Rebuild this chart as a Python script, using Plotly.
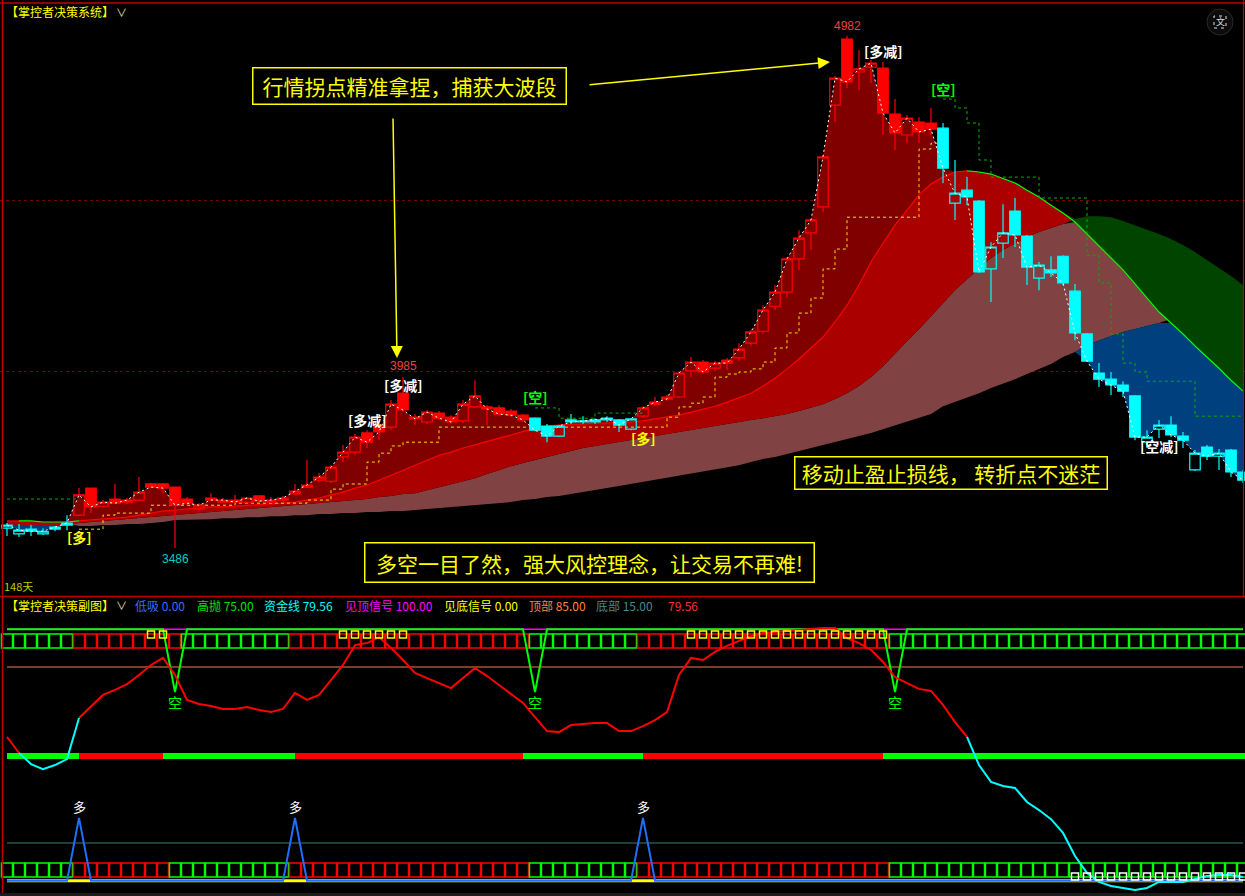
import numpy as np
import plotly.graph_objects as go

W, H = 1245, 896

# ---------------- main chart data (price) ----------------
OPEN = [3544, 3527, 3541, 3527, 3541, 3553, 3582, 3661, 3608, 3629,
        3620, 3626, 3673, 3673, 3664, 3629, 3600, 3632, 3620, 3626,
        3620, 3638, 3620, 3626, 3644, 3664, 3684, 3681, 3752, 3766,
        3822, 3845, 3839, 3938, 3868, 3854, 3880, 3868, 3857, 3898,
        3898, 3895, 3886, 3874, 3865, 3842, 3813, 3860, 3854, 3854,
        3860, 3860, 3833, 3871, 3906, 3927, 3927, 4003, 4029, 4011,
        4035, 4041, 4084, 4119, 4192, 4233, 4330, 4406, 4482, 4779,
        4972, 4876, 4890, 4887, 4753, 4692, 4730, 4727, 4712, 4493,
        4531, 4499, 4301, 4376, 4470, 4397, 4274, 4298, 4338, 4236,
        4111, 3997, 3979, 3962, 3930, 3795, 3833, 3845, 3813, 3714,
        3781, 3754, 3772, 3708]
HIGH = [3559, 3556, 3553, 3544, 3550, 3582, 3661, 3661, 3626, 3673,
        3632, 3693, 3676, 3676, 3664, 3635, 3617, 3646, 3632, 3641,
        3635, 3641, 3635, 3638, 3673, 3743, 3705, 3728, 3787, 3819,
        3830, 3854, 3918, 3985, 3877, 3889, 3886, 3874, 3918, 3976,
        3903, 3903, 3892, 3877, 3868, 3848, 3845, 3877, 3871, 3865,
        3871, 3863, 3865, 3900, 3927, 3933, 4000, 4044, 4035, 4032,
        4041, 4084, 4122, 4195, 4254, 4336, 4414, 4449, 4633, 4864,
        4982, 4940, 4911, 4905, 4797, 4750, 4744, 4771, 4727, 4619,
        4569, 4502, 4379, 4490, 4508, 4400, 4321, 4338, 4341, 4257,
        4114, 4026, 4000, 3973, 3933, 3830, 3860, 3871, 3825, 3772,
        3787, 3775, 3775, 3714]
LOW = [3521, 3518, 3521, 3524, 3535, 3538, 3579, 3588, 3606, 3614,
       3614, 3623, 3661, 3646, 3486, 3611, 3597, 3623, 3617, 3617,
       3617, 3620, 3617, 3620, 3641, 3661, 3679, 3676, 3737, 3757,
       3778, 3801, 3830, 3883, 3845, 3848, 3860, 3848, 3851, 3895,
       3845, 3871, 3868, 3854, 3827, 3795, 3810, 3848, 3848, 3848,
       3854, 3825, 3830, 3865, 3900, 3915, 3924, 3985, 3994, 4003,
       4006, 4032, 4076, 4111, 4181, 4219, 4298, 4356, 4467, 4730,
       4829, 4823, 4844, 4692, 4648, 4668, 4668, 4692, 4552, 4444,
       4487, 4289, 4204, 4333, 4365, 4254, 4239, 4277, 4254, 4093,
       4029, 3956, 3933, 3927, 3801, 3778, 3807, 3810, 3778, 3711,
       3743, 3714, 3693, 3676]
CLOSE = [3553, 3538, 3535, 3535, 3547, 3559, 3641, 3606, 3620, 3617,
         3626, 3649, 3664, 3661, 3611, 3617, 3611, 3626, 3626, 3620,
         3632, 3623, 3626, 3632, 3652, 3670, 3693, 3722, 3766, 3810,
         3795, 3825, 3906, 3889, 3863, 3883, 3865, 3854, 3906, 3930,
         3892, 3877, 3874, 3860, 3830, 3813, 3842, 3854, 3857, 3860,
         3865, 3845, 3863, 3895, 3912, 3921, 3997, 4029, 4000, 4026,
         4026, 4067, 4117, 4181, 4233, 4330, 4391, 4444, 4628, 4858,
         4847, 4885, 4902, 4756, 4698, 4741, 4701, 4709, 4595, 4522,
         4511, 4292, 4365, 4406, 4400, 4306, 4312, 4289, 4260, 4114,
         4032, 3979, 3962, 3944, 3810, 3810, 3845, 3816, 3801, 3763,
         3754, 3763, 3708, 3684]
# r = bull-trend candle (red), c = bear-trend candle (cyan)
CANDLE_TREND = "c" * 6 + "r" * 38 + "c" * 9 + "r" * 25 + "c" * 26

MA_FAST = [3565, 3565, 3565, 3562, 3562, 3562, 3565, 3568, 3570, 3573,
           3576, 3582, 3588, 3594, 3597, 3600, 3603, 3606, 3606, 3608,
           3611, 3611, 3614, 3617, 3620, 3626, 3632, 3641, 3649, 3661,
           3670, 3684, 3699, 3714, 3728, 3743, 3757, 3766, 3778, 3787,
           3798, 3807, 3816, 3825, 3836, 3842, 3845, 3848, 3848, 3851,
           3851, 3854, 3854, 3857, 3863, 3868, 3874, 3883, 3892, 3900,
           3912, 3924, 3938, 3959, 3982, 4009, 4038, 4070, 4102, 4146,
           4195, 4254, 4321, 4376, 4429, 4473, 4517, 4549, 4569, 4584,
           4587, 4584, 4578, 4566, 4552, 4531, 4511, 4487, 4464, 4438,
           4403, 4368, 4333, 4298, 4257, 4216, 4175, 4143, 4111, 4076,
           4044, 4011, 3976, 3944]
MA_MID = [3553, 3553, 3553, 3553, 3553, 3553, 3559, 3562, 3565, 3568,
          3570, 3573, 3576, 3579, 3582, 3585, 3588, 3591, 3594, 3597,
          3600, 3603, 3606, 3608, 3611, 3614, 3617, 3620, 3623, 3626,
          3629, 3635, 3638, 3644, 3646, 3655, 3664, 3673, 3682, 3690,
          3702, 3714, 3725, 3734, 3743, 3752, 3760, 3769, 3778, 3784,
          3790, 3795, 3801, 3807, 3813, 3819, 3825, 3830, 3836, 3842,
          3848, 3854, 3860, 3865, 3871, 3877, 3886, 3895, 3906, 3921,
          3938, 3959, 3985, 4017, 4055, 4090, 4125, 4163, 4204, 4239,
          4271, 4303, 4333, 4356, 4376, 4394, 4409, 4420, 4432, 4447,
          4455, 4455, 4452, 4441, 4429, 4417, 4403, 4388, 4371, 4350,
          4327, 4303, 4280, 4254]
MA_SLOW = [3556, 3556, 3556, 3556, 3556, 3556, 3550, 3550, 3553, 3553,
           3556, 3556, 3559, 3562, 3568, 3568, 3570, 3570, 3573, 3573,
           3576, 3576, 3579, 3579, 3582, 3582, 3585, 3585, 3588, 3588,
           3591, 3591, 3594, 3594, 3597, 3600, 3603, 3606, 3608, 3611,
           3614, 3617, 3620, 3626, 3629, 3635, 3638, 3644, 3649, 3655,
           3661, 3667, 3673, 3679, 3684, 3690, 3696, 3702, 3708, 3714,
           3722, 3728, 3737, 3746, 3752, 3760, 3769, 3778, 3787, 3795,
           3804, 3813, 3822, 3833, 3842, 3854, 3865, 3877, 3900, 3912,
           3924, 3938, 3953, 3965, 3979, 3994, 4009, 4023, 4044, 4058,
           4079, 4093, 4105, 4117, 4125, 4134, 4143, 4155, 4163, 4172,
           4181, 4190, 4195, 4204]

YELLOW_STOP = [None] * 6 + [
    3541, 3541, 3582, 3588, 3588, 3588,
    3611, 3611, 3611, 3611, 3611, 3611, 3611,
    3617, 3617, 3617, 3617, 3617, 3617,
    3626, 3626, 3658, 3673, 3673, 3737, 3763, 3784, 3795, 3795, 3795,
    3839, 3839, 3839, 3839, 3839, 3839, 3839, 3839, 3839, 3839,
    3839, 3839, 3839, 3839, 3839, 3839, 3839, 3839, 3839,
    3868, 3898, 3909, 3927, 3985, 3994, 4000, 4009, 4029, 4070,
    4114, 4172, 4216, 4301, 4359,
    4452, 4452, 4452, 4452, 4452, 4452,
    4651, 4668, 4668] + [None] * 25
GREEN_STOP = [3629] * 7 + [None] * 37 + [
    3895, 3895, 3865, 3865, 3865, 3880, 3880, 3880, 3880, 3880] + [None] * 24 + [
    4797, 4771, 4727, 4619, 4569, 4569, 4569, 4569, 4508, 4508, 4508, 4508,
    4341, 4260, 4111, 4026, 4000, 3973, 3973, 3973, 3973,
    3871, 3871, 3871, 3871, 3871]

# ---------------- sub chart data ----------------
FUND_LINE = [57.2, 50.8, 46.4, 44.4, 46.0, 48.4, 64.7, 69.5, 73.9, 75.9,
             78.2, 81.8, 85.8, 88.6, 81.8, 71.9, 70.3, 69.5, 68.3, 68.3,
             69.1, 67.9, 67.1, 68.3, 74.7, 71.9, 73.9, 79.8, 85.8, 93.7,
             94.5, 96.9, 92.6, 87.8, 82.6, 80.6, 78.6, 76.6, 80.6, 84.6,
             81.4, 77.8, 74.3, 70.7, 65.1, 59.5, 59.1, 61.9, 62.3, 62.7,
             62.7, 59.5, 59.5, 61.5, 63.9, 67.1, 81.8, 88.6, 87.8, 91.0,
             93.4, 95.3, 97.3, 98.5, 98.9, 99.3, 99.7, 100.1, 100.5, 100.5,
             96.5, 94.5, 91.8, 87.0, 81.0, 78.6, 76.3, 75.5, 69.9, 63.1,
             57.2, 46.0, 39.3, 37.7, 36.9, 31.3, 28.1, 24.5, 19.0, 9.8,
             3.1, -0.5, -2.1, -2.9, -3.7, -2.9, -0.5, -0.5, -0.5, 0.7,
             1.9, 2.3, 2.3, 1.5]
FUND_STATE = "r" + "c" * 5 + "r" * 74 + "c" * 24
TOP_ROW_STATE = "g" * 6 + "r" * 9 + "g" * 9 + "r" * 20 + "g" * 9 + "r" * 21 + "g" * 30
BOTTOM_ROW_STATE = "g" * 6 + "r" * 8 + "g" * 10 + "r" * 20 + "g" * 9 + "r" * 21 + "g" * 30
BAND_STATE = "g" * 6 + "r" * 7 + "g" * 11 + "r" * 19 + "g" * 10 + "r" * 20 + "g" * 31

TOP_LEVEL = 85.0       # 顶部
BOTTOM_LEVEL = 15.0    # 底部
PEAK_SIGNAL = 100.0    # 见顶信号
BASE_SIGNAL = 0.0      # 见底信号
GAOPAO_BASE, GAOPAO_DIP = 100.0, 75.0
GAOPAO_BARS = [14, 44, 74]
DIXI_BASE, DIXI_PEAK = 0.0, 25.0
DIXI_BARS = [6, 24, 53]

SUB_HEADER = [("【掌控者决策副图】", "", "#ffff00", 4),
              ("低吸", "0.00", "#2f6fff", 133),
              ("高抛", "75.00", "#00e000", 195),
              ("资金线", "79.56", "#00ffff", 262),
              ("见顶信号", "100.00", "#ff00ff", 343),
              ("见底信号", "0.00", "#ffff00", 442),
              ("顶部", "85.00", "#ff8040", 527),
              ("底部", "15.00", "#4a8a8a", 594),
              ("", "79.56", "#ff3030", 666)]

# ---------------- helpers ----------------
N = len(CLOSE)
idx = list(range(N))
XR = [-7 / 12, (W - 7) / 12]
Y_MAIN = [5086.2 - 2.92 * 595, 5086.2 - 2.92 * 5]
Y_SUB = [85 - (893 - 667) / 2.5143, 85 + (667 - 597) / 2.5143]
CJK = "Noto Sans CJK SC"


def PX(x):
    return x / W


def PY(y):
    return 1 - y / H


def seg(values, states, key):
    out = []
    for i, v in enumerate(values):
        ok = states[i] == key or (i > 0 and states[i - 1] == key)
        out.append(v if ok else None)
    return out


c = np.array(CLOSE, float)
m1 = np.array(MA_FAST, float)
m2 = np.array(MA_MID, float)
m3 = np.array(MA_SLOW, float)
top_ma = np.maximum(m1, m2)
low12 = np.minimum(m1, m2)
low_all = np.minimum(low12, m3)

fig = go.Figure()


def band(lower, upper, color):
    fig.add_trace(go.Scatter(x=idx, y=lower, mode="lines", line=dict(width=0),
                             hoverinfo="skip", showlegend=False, xaxis="x", yaxis="y"))
    fig.add_trace(go.Scatter(x=idx, y=upper, mode="lines", line=dict(width=0),
                             fill="tonexty", fillcolor=color, hoverinfo="skip",
                             showlegend=False, xaxis="x", yaxis="y"))


band(m3, np.maximum(low12, m3), "#804242")
band(m2, np.maximum(m1, m2), "#aa0000")
band(m1, np.maximum(m2, m1), "#004400")
band(top_ma, np.maximum(c, top_ma), "#800000")
band(np.minimum(c, low_all), low_all, "#00407f")

fig.add_trace(go.Scatter(x=idx, y=seg(MA_FAST, FUND_STATE, "r"), mode="lines",
                         line=dict(color="#ff0000", width=1.2), showlegend=False,
                         hoverinfo="skip", xaxis="x", yaxis="y"))
fig.add_trace(go.Scatter(x=idx, y=seg(MA_FAST, FUND_STATE, "c"), mode="lines",
                         line=dict(color="#00ff00", width=1.2), showlegend=False,
                         hoverinfo="skip", xaxis="x", yaxis="y"))
fig.add_trace(go.Scatter(x=idx, y=YELLOW_STOP, mode="lines", line_shape="hv",
                         line=dict(color="#e8e800", width=1, dash="3px,3px"),
                         showlegend=False, hoverinfo="skip", xaxis="x", yaxis="y"))
fig.add_trace(go.Scatter(x=idx, y=GREEN_STOP, mode="lines", line_shape="hv",
                         line=dict(color="#00b000", width=1, dash="3px,3px"),
                         showlegend=False, hoverinfo="skip", xaxis="x", yaxis="y"))

# candles on an overlaying axis so they sit above the fills
for key, col in (("r", "#ff0000"), ("c", "#00ffff")):
    sel = [i for i in idx if CANDLE_TREND[i] == key]
    fig.add_trace(go.Candlestick(
        x=sel, open=[OPEN[i] for i in sel], high=[HIGH[i] for i in sel],
        low=[LOW[i] for i in sel], close=[CLOSE[i] for i in sel],
        increasing=dict(line=dict(color=col, width=1.2), fillcolor="rgba(0,0,0,0)"),
        decreasing=dict(line=dict(color=col, width=1.2), fillcolor=col),
        whiskerwidth=0, hoverinfo="skip", showlegend=False, xaxis="x3", yaxis="y3"))
fig.add_trace(go.Scatter(x=idx, y=CLOSE, mode="lines",
                         line=dict(color="#ffffff", width=1, dash="2px,3px"),
                         showlegend=False, hoverinfo="skip", xaxis="x3", yaxis="y3"))

# ---------------- sub chart ----------------
GREEN, RED = "#00ff00", "#ff0000"
fig.add_trace(go.Bar(x=idx, y=[2.4] * N, base=48.4, width=1.0, offset=0,
                     marker=dict(color=[GREEN if s == "g" else RED for s in BAND_STATE], line=dict(width=0)),
                     showlegend=False, hoverinfo="skip", xaxis="x2", yaxis="y2"))
fig.add_trace(go.Bar(x=idx, y=[5.5] * N, base=92.6, width=0.92,
                     marker=dict(color="rgba(0,0,0,0)",
                                 line=dict(color=[GREEN if s == "g" else RED for s in TOP_ROW_STATE], width=1.5)),
                     showlegend=False, hoverinfo="skip", xaxis="x2", yaxis="y2"))
fig.add_trace(go.Bar(x=idx, y=[5.5] * N, base=1.5, width=0.92,
                     marker=dict(color="rgba(0,0,0,0)",
                                 line=dict(color=[GREEN if s == "g" else RED for s in BOTTOM_ROW_STATE], width=1.5)),
                     showlegend=False, hoverinfo="skip", xaxis="x2", yaxis="y2"))


def sub_line(y, color, width, dash=None):
    fig.add_trace(go.Scatter(x=idx, y=y, mode="lines",
                             line=dict(color=color, width=width, dash=dash),
                             showlegend=False, hoverinfo="skip", xaxis="x2", yaxis="y2"))


sub_line([TOP_LEVEL] * N, "#f08050", 1.2)
sub_line([BOTTOM_LEVEL] * N, "#3c7c7c", 1.2)
sub_line([PEAK_SIGNAL] * N, "#ff00ff", 1.5)
gaopao = [GAOPAO_DIP if i in GAOPAO_BARS else GAOPAO_BASE for i in idx]
sub_line(gaopao, "#00ff00", 2)
sub_line([BASE_SIGNAL] * N, "#ffff00", 3)
dixi = [DIXI_PEAK if i in DIXI_BARS else DIXI_BASE for i in idx]
sub_line(dixi, "#1f6fff", 2)
sub_line(seg(FUND_LINE, FUND_STATE, "r"), "#ff0000", 2)
sub_line(seg(FUND_LINE, FUND_STATE, "c"), "#00ffff", 2)

top_sig = [i for i in idx if FUND_LINE[i] > TOP_LEVEL]
bot_sig = [i for i in idx if FUND_LINE[i] < BOTTOM_LEVEL]
fig.add_trace(go.Scatter(x=top_sig, y=[97.9] * len(top_sig), mode="markers",
                         marker=dict(symbol="square-open", size=7, color="#ffff00", line=dict(width=1.5)),
                         showlegend=False, hoverinfo="skip", xaxis="x2", yaxis="y2"))
fig.add_trace(go.Scatter(x=bot_sig, y=[1.7] * len(bot_sig), mode="markers",
                         marker=dict(symbol="square-open", size=7, color="#ffffff", line=dict(width=1.5)),
                         showlegend=False, hoverinfo="skip", xaxis="x2", yaxis="y2"))

# ---------------- annotations ----------------
ann = []


def txt(x, y, text, color, size, xanchor="left", family=CJK, xref="paper", yref="paper", yshift=0):
    ann.append(dict(x=x, y=y, xref=xref, yref=yref, text=text, showarrow=False,
                    xanchor=xanchor, yanchor="middle", yshift=yshift,
                    font=dict(color=color, size=size, family=family)))


txt(PX(4), PY(12), "【掌控者决策系统】", "#ffff00", 12)
txt(PX(121), PY(12), "∨", "#e8e8a0", 11, xanchor="center")
txt(PX(2), PY(586), "148天", "#c8c800", 11)
for name, val, col, xp in SUB_HEADER:
    t = (name + " " + val).strip()
    txt(PX(xp), PY(605), t, col, 12)
txt(PX(121), PY(605), "∨", "#e8e8a0", 11, xanchor="center")

# data-attached labels
anchors = {"high": HIGH, "low": LOW, "yellow": YELLOW_STOP, "green": GREEN_STOP}
SIGNAL_LABELS = [("[多减]", 73, "high", 11, "#ffffff"),
                 ("[多减]", 33, "high", -8, "#ffffff"),
                 ("[多减]", 30, "high", 10, "#ffffff"),
                 ("[空减]", 96, "low", -8, "#ffffff"),
                 ("[空]", 78, "green", 10, "#00ff00"),
                 ("[空]", 44, "green", 11, "#00ff00"),
                 ("[多]", 6, "yellow", -8, "#ffff00"),
                 ("[多]", 53, "yellow", -11, "#ffff00")]
for text, i, kind, ys, col in SIGNAL_LABELS:
    txt(i, anchors[kind][i], "<b>" + text + "</b>", col, 14, xanchor="center",
        xref="x", yref="y", yshift=ys)
txt(70, HIGH[70], f"{HIGH[70]:.0f}", "#e84444", 12, xanchor="center",
    family="Liberation Sans", xref="x", yref="y", yshift=10)
txt(33, HIGH[33], f"{HIGH[33]:.0f}", "#e84444", 12, xanchor="center",
    family="Liberation Sans", xref="x", yref="y", yshift=11)
txt(14, LOW[14], f"{LOW[14]:.0f}", "#00cccc", 12, xanchor="center",
    family="Liberation Sans", xref="x", yref="y", yshift=-11)
for i in GAOPAO_BARS:
    txt(i, GAOPAO_DIP, "空", "#00ff00", 14, xanchor="center", xref="x2", yref="y2", yshift=-10)
for i in DIXI_BARS:
    txt(i, DIXI_PEAK, "多", "#ffffff", 13, xanchor="center", xref="x2", yref="y2", yshift=11)

# callout boxes
for text, cx, cy, w, h in [("行情拐点精准拿捏，捕获大波段", 409, 86, 312, 35),
                           ("移动止盈止损线， 转折点不迷茫", 951, 473, 311, 31),
                           ("多空一目了然，强大风控理念，让交易不再难!", 589, 562, 448, 38)]:
    ann.append(dict(x=PX(cx), y=PY(cy), xref="paper", yref="paper", text=text,
                    showarrow=False, xanchor="center", yanchor="middle",
                    width=w, height=h, borderpad=0, bordercolor="#ffff00", borderwidth=1.5,
                    font=dict(color="#ffff00", size=21, family=CJK)))
# arrows
for hx, hy, tx, ty in [(830, 62, 588, 85), (397, 358, 393, 117)]:
    ann.append(dict(x=PX(hx), y=PY(hy), xref="paper", yref="paper", text="",
                    showarrow=True, ax=tx - hx, ay=ty - hy, arrowhead=2, arrowsize=1.6,
                    arrowwidth=1.5, arrowcolor="#ffff00", standoff=0))
txt(PX(1220), PY(22), "文", "#dddddd", 9, xanchor="center")

shapes = [
    dict(type="line", xref="paper", yref="paper", x0=0, x1=1, y0=PY(3), y1=PY(3),
         line=dict(color="#c00000", width=1.5)),
    dict(type="line", xref="paper", yref="paper", x0=PX(2.5), x1=PX(2.5), y0=PY(893), y1=1,
         line=dict(color="#c00000", width=1.5)),
    dict(type="line", xref="paper", yref="paper", x0=0, x1=1, y0=PY(596.5), y1=PY(596.5),
         line=dict(color="#c00000", width=1.5)),
    dict(type="line", xref="paper", yref="paper", x0=PX(1243.5), x1=PX(1243.5), y0=PY(596), y1=1,
         line=dict(color="#c00000", width=1.2)),
    dict(type="rect", xref="paper", yref="paper", x0=0, x1=1, y0=0, y1=PY(893),
         fillcolor="#1c1c1c", line=dict(width=0)),
    dict(type="circle", xref="paper", yref="paper", x0=PX(1207), x1=PX(1233), y0=PY(35), y1=PY(9),
         fillcolor="#0c0c0c", line=dict(color="#2a2a2a", width=1)),
    dict(type="rect", xref="paper", yref="paper", x0=PX(1214), x1=PX(1226), y0=PY(28), y1=PY(16),
         line=dict(color="#dddddd", width=1, dash="3px,4px")),
]

main_dom = [PY(595), PY(5)]
sub_dom = [PY(893), PY(597)]
fig.update_layout(
    width=W, height=H, margin=dict(l=0, r=0, t=0, b=0), autosize=False,
    paper_bgcolor="#000000", plot_bgcolor="#000000", showlegend=False,
    barmode="overlay", boxgap=0.05, boxgroupgap=0.08, boxmode="overlay",
    xaxis=dict(domain=[0, 1], range=XR, anchor="y", visible=False, rangeslider=dict(visible=False)),
    yaxis=dict(domain=main_dom, range=Y_MAIN, anchor="x", tickvals=[4000, 4500],
               showticklabels=False, ticks="", showline=False, zeroline=False,
               showgrid=True, gridcolor="#7a0000", griddash="3px,3px", gridwidth=1),
    xaxis3=dict(range=XR, overlaying="x", anchor="y3", visible=False,
                rangeslider=dict(visible=False)),
    yaxis3=dict(range=Y_MAIN, overlaying="y", anchor="x3", visible=False),
    xaxis2=dict(domain=[0, 1], range=XR, anchor="y2", visible=False,
                rangeslider=dict(visible=False)),
    yaxis2=dict(domain=sub_dom, range=Y_SUB, anchor="x2", visible=False),
    annotations=ann, shapes=shapes,
)

fig.write_html(
    "out.html",
    config={"displayModeBar": False},
    post_script="document.body.style.margin='0';document.body.style.background='#000';",
)
